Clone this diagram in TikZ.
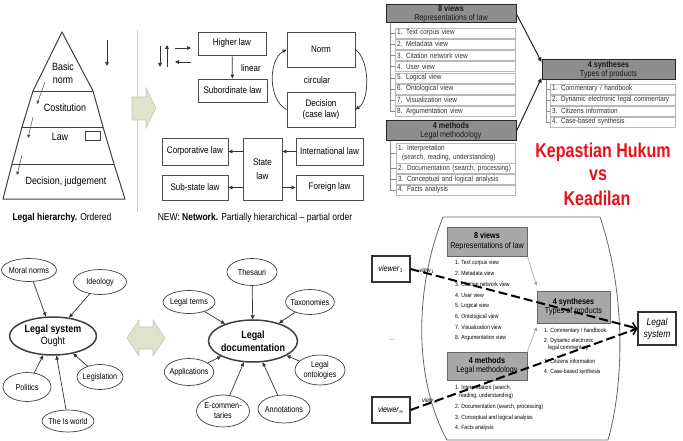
\documentclass[tikz,border=0pt]{standalone}
\usepackage{fontspec}
\setmainfont{Liberation Sans}[FakeStretch=0.85]
\newfontfamily\slidefont{Liberation Sans}[FakeStretch=0.8]
\usetikzlibrary{arrows.meta,shapes.geometric,calc}

\definecolor{paleolive}{HTML}{DFE2CC}
\definecolor{paleoliveedge}{HTML}{C6CAB0}
\definecolor{headgray}{HTML}{8E8E8E}
\definecolor{headgraylt}{HTML}{A8A8A8}
\definecolor{itemedge}{HTML}{B8B8B8}
\definecolor{slidered}{HTML}{E8101A}

\tikzset{
  arr/.style={-{Triangle[length=4pt,width=3.6pt]}, line width=0.7pt, draw=black!80},
  smallarr/.style={-{Triangle[length=3.2pt,width=3pt]}, line width=0.5pt, draw=black!70},
  lawbox/.style={draw=black!70, line width=0.9pt, fill=white, align=center, inner sep=0pt, font=\fontsize{9.5}{11}\selectfont},
  ptext/.style={align=center, inner sep=0pt, font=\fontsize{10.5}{13}\selectfont},
  capt/.style={inner sep=0pt, font=\fontsize{10}{12}\selectfont},
  oval/.style={ellipse, draw=black!75, line width=0.7pt, fill=white, inner sep=-2pt, align=center, font=\fontsize{8.5}{10}\selectfont},
  bigoval/.style={oval, line width=1.5pt, inner sep=-4pt, font=\fontsize{10.5}{12.5}\selectfont},
  headbox/.style={draw=black!85, line width=1pt, fill=headgray, align=center, inner sep=0pt, text=black!90, font=\fontsize{8.5}{9}\selectfont},
  listitem/.style={draw=itemedge, line width=0.5pt, fill=white, align=left, inner xsep=2pt, inner ysep=0pt, minimum height=10pt, text=black!80, font=\fontsize{7.5}{8.5}\selectfont},
  treeline/.style={draw=black!45, line width=0.5pt},
  linkarr/.style={-{Triangle[length=4.5pt,width=4pt]}, line width=1pt, draw=black!85},
  lightbox/.style={draw=black!60, line width=0.8pt, fill=headgraylt, align=center, inner sep=0pt, font=\fontsize{8.5}{9.5}\selectfont},
  plainitem/.style={align=left, inner sep=0pt, anchor=west, font=\fontsize{6}{7.5}\selectfont},
  viewerbox/.style={draw=black!80, line width=1.1pt, fill=white, align=center, inner sep=0pt, font=\itshape\fontsize{8.5}{10}\selectfont},
  dasharr/.style={line width=2pt, dash pattern=on 9pt off 4pt, -{Straight Barb[length=5pt,width=9pt,line width=1.6pt]}},
  blockarrow/.style={fill=paleolive, draw=paleoliveedge, line width=0.6pt},
  redtext/.style={text=slidered, inner sep=0pt, font=\slidefont\bfseries\fontsize{20}{23}\selectfont},
}

\begin{document}
\begin{tikzpicture}[x=1pt,y=-1pt]
\useasboundingbox (0,0) rectangle (683,441);
\fill[white] (0,0) rectangle (683,441);

% ===== Legal hierarchy (pyramid) =====
\draw[draw=black!75, line width=1pt, line join=round]
  (62,32) -- (93,91) -- (103,127) -- (114,164) -- (125,199) -- (3,199)
  -- (12,164) -- (22,127) -- (33,91) -- cycle;
\draw[black!75, line width=0.9pt] (33,91) -- (93,91) (22,127) -- (103,127) (12,164) -- (114,164);
\node[ptext] (basic) at (63,73.5) {Basic\\norm};
\node[ptext] (cost) at (65,108) {Costitution};
\node[ptext] (lawtext) at (60,137) {Law};
\node[draw=black!75, line width=0.8pt, minimum width=15pt, minimum height=9pt, inner sep=0pt] (lawmark) at (93,136) {};
\node[ptext] (dec) at (66,182) {Decision, judgement};
\coordinate (h1a) at (45,82);  \coordinate (h1b) at (37,104);
\coordinate (h2a) at (33,117); \coordinate (h2b) at (28,138);
\coordinate (h3a) at (22,155); \coordinate (h3b) at (17,175);
\draw[smallarr] (h1a) -- (h1b);
\draw[smallarr] (h2a) -- (h2b);
\draw[smallarr] (h3a) -- (h3b);
\coordinate (topd1) at (107,40); \coordinate (topd2) at (107,66);
\draw[arr] (topd1) -- (topd2);
\node[capt] (cap1) at (62,218) {\textbf{Legal hierarchy.} Ordered};
\draw[black!20, line width=0.6pt] (137,30) -- (137,212);
\draw[blockarrow] (132,97) -- (146,97) -- (146,88) -- (156,108) -- (146,128) -- (146,120) -- (132,120) -- cycle;

% ===== Network of laws =====
\coordinate (lg1a) at (160,46); \coordinate (lg1b) at (160,67);
\coordinate (lg2a) at (167,67); \coordinate (lg2b) at (167,45);
\coordinate (lg3a) at (175,48); \coordinate (lg3b) at (191,48);
\coordinate (lg4a) at (191,62); \coordinate (lg4b) at (175,62);
\draw[arr] (lg1a) -- (lg1b);
\draw[arr] (lg2a) -- (lg2b);
\draw[arr] (lg3a) -- (lg3b);
\draw[arr] (lg4a) -- (lg4b);

\node[lawbox, minimum width=68pt, minimum height=23pt] (higher) at (232,43.5) {Higher law};
\node[lawbox, minimum width=69pt, minimum height=23pt] (subord) at (232.5,90.5) {Subordinate law};
\draw[arr] (higher) -- (subord);
\node[capt, font=\fontsize{9.5}{11}\selectfont] (linear) at (251,68) {linear};
\node[lawbox, minimum width=68pt, minimum height=35pt] (norm) at (321,49.5) {Norm};
\node[lawbox, minimum width=68pt, minimum height=35pt] (decis) at (321,109.5) {Decision\\(case law)};
\node[capt, font=\fontsize{9.5}{11}\selectfont] (circ) at (317,80) {circular};
\draw[arr] (decis.west) .. controls (268,100) and (268,60) .. (norm.west);
\draw[arr] (norm.east) .. controls (370,60) and (370,100) .. (decis.east);

\node[lawbox, minimum width=66pt, minimum height=27pt] (corp) at (195,151.5) {Corporative law};
\node[lawbox, minimum width=66pt, minimum height=25pt] (subst) at (195,187.5) {Sub-state law};
\node[lawbox, minimum width=39pt, minimum height=62pt] (state) at (262.5,169) {State\\[3pt]law};
\node[lawbox, minimum width=67pt, minimum height=27pt] (intl) at (329.5,151.5) {International law};
\node[lawbox, minimum width=67pt, minimum height=25pt] (foreign) at (329.5,187.5) {Foreign law};
\draw[arr] (state.west |- corp.east) -- (corp.east);
\draw[arr] (state.west |- subst.east) -- (subst.east);
\draw[arr] (intl.west) -- (state.east |- intl.west);
\draw[arr] (state.east |- foreign.west) -- (foreign.west);
\node[capt] (cap2) at (255,218) {NEW: \textbf{Network.} Partially hierarchical -- partial order};

% ===== Views, methods, syntheses =====
\node[headbox, minimum width=130pt, minimum height=18pt] (views) at (451,14) {\textbf{8 views}\\Representations of law};
\foreach \txt [count=\i] in {{1. Text corpus view}, {2. Metadata view}, {3. Citation network view}, {4. User view}, {5. Logical view}, {6. Ontological view}, {7. Visualization view}, {8. Argumentation view}}
  \node[listitem, text width=116pt] (v\i) at (455,{33+11.2*(\i-1)}) {\txt};
\coordinate (vtree) at (390,23);
\foreach \i in {1,...,8} \draw[treeline] (vtree) |- (v\i.west);

\node[headbox, minimum width=130pt, minimum height=20pt] (methods) at (451,131) {\textbf{4 methods}\\Legal methodology};
\node[listitem, text width=115pt, minimum height=20pt] (m1) at (455.5,153) {1. Interpretation\\\hspace*{4pt}(search, reading, understanding)};
\node[listitem, text width=115pt] (m2) at (455.5,168.5) {2. Documentation (search, processing)};
\node[listitem, text width=115pt] (m3) at (455.5,179.5) {3. Conceptual and logical analysis};
\node[listitem, text width=115pt] (m4) at (455.5,190) {4. Facts analysis};
\coordinate (mtree) at (390,141);
\foreach \i in {1,...,4} \draw[treeline] (mtree) |- (m\i.west);

\node[headbox, minimum width=133pt, minimum height=20pt] (synth) at (608.5,70) {\textbf{4 syntheses}\\Types of products};
\foreach \txt [count=\i] in {{1. Commentary / handbook}, {2. Dynamic electronic legal commentary}, {3. Citizens information}, {4. Case-based synthesis}}
  \node[listitem, text width=121pt] (s\i) at (612.5,{89+11*(\i-1)}) {\txt};
\coordinate (stree) at (546,80);
\foreach \i in {1,...,4} \draw[treeline] (stree) |- (s\i.west);
\draw[linkarr] (views.east) -- ($(synth.west)+(0,-8)$);
\draw[linkarr] (methods.east) -- ($(synth.west)+(0,8)$);

\node[redtext] (kh) at (603,152) {Kepastian Hukum};
\node[redtext] (vs) at (598,175) {vs};
\node[redtext] (kd) at (597,198) {Keadilan};

% ===== Legal system (ought) =====
\node[bigoval, minimum width=87pt, minimum height=38pt] (lsys) at (53,336) {\textbf{Legal system}\\Ought};
\node[oval, minimum width=55pt, minimum height=23pt] (moral) at (29,270) {Moral norms};
\node[oval, minimum width=53pt, minimum height=25pt] (ideol) at (100,282) {Ideology};
\node[oval, minimum width=48pt, minimum height=29pt] (polit) at (27,387) {Politics};
\node[oval, minimum width=52pt, minimum height=22pt] (isworld) at (68,421) {The Is world};
\node[oval, minimum width=46pt, minimum height=25pt] (legis) at (100,377) {Legislation};
\foreach \n in {moral,ideol,polit,isworld,legis} \draw[arr] (\n) -- (lsys);

\draw[blockarrow] (127,338) -- (139,320) -- (139,327) -- (153,327) -- (153,320) -- (165,338)
  -- (153,356) -- (153,349) -- (139,349) -- (139,356) -- cycle;

% ===== Legal documentation =====
\node[bigoval, minimum width=89pt, minimum height=42pt] (ldoc) at (253,341) {\textbf{Legal}\\\textbf{documentation}};
\node[oval, minimum width=50pt, minimum height=27pt] (thes) at (252,272) {Thesauri};
\node[oval, minimum width=52pt, minimum height=23pt] (lterms) at (189,302) {Legal terms};
\node[oval, minimum width=46pt, minimum height=25pt] (taxo) at (310,302) {Taxonomies};
\node[oval, minimum width=48pt, minimum height=27pt] (appl) at (189,372) {Applications};
\node[oval, minimum width=50pt, minimum height=30pt] (onto) at (320,370) {Legal\\ontologies};
\node[oval, minimum width=53pt, minimum height=32pt] (ecomm) at (223,411) {E-commen-\\taries};
\node[oval, minimum width=52pt, minimum height=28pt] (annot) at (284,409) {Annotations};
\foreach \n in {thes,lterms,taxo,appl,onto,ecomm,annot} \draw[arr] (\n) -- (ldoc);

% ===== Viewers and the legal system =====
\draw[black!60, line width=0.8pt, line join=round]
  (443,217) -- (600,217) .. controls (625,290) and (625,380) .. (608,440)
  -- (447,440) .. controls (414,380) and (414,290) .. (443,217) -- cycle;
\node[lightbox, minimum width=80pt, minimum height=29pt] (views2) at (487,241.5) {\textbf{8 views}\\Representations of law};
\foreach \txt [count=\i] in {{1. Text corpus view}, {2. Metadata view}, {3. Citation network view}, {4. User view}, {5. Logical view}, {6. Ontological view}, {7. Visualization view}, {8. Argumentation view}}
  \node[plainitem] (w\i) at (455,{263+10.75*(\i-1)}) {\txt};
\node[lightbox, minimum width=80pt, minimum height=28pt] (methods2) at (487,366) {\textbf{4 methods}\\Legal methodology};
\node[plainitem] (n1) at (455,392) {1. Interpretation (search,\\\hspace*{4pt}reading, understanding)};
\node[plainitem] (n2) at (455,407) {2. Documentation (search, processing)};
\node[plainitem] (n3) at (455,417.5) {3. Conceptual and logical analysis};
\node[plainitem] (n4) at (455,428) {4. Facts analysis};
\node[lightbox, minimum width=73pt, minimum height=32pt] (synth2) at (573.5,307) {\textbf{4 syntheses}\\Types of products};
\node[plainitem] (t1) at (544,331) {1. Commentary / handbook};
\node[plainitem] (t2) at (544,344.5) {2. Dynamic electronic\\\hspace*{4pt}legal commentary};
\node[plainitem] (t3) at (544,361) {3. Citizens information};
\node[plainitem] (t4) at (544,372) {4. Case-based synthesis};
\draw[smallarr, draw=black!40] (views2.south east) -- ($(synth2.north west)+(0,-5)$);
\draw[smallarr, draw=black!40] (methods2.north east) -- ($(synth2.south west)+(0,4)$);

\node[viewerbox, minimum width=38pt, minimum height=26pt] (viewer1) at (391,269) {viewer$_1$};
\node[viewerbox, minimum width=38pt, minimum height=26pt] (viewern) at (391,410) {viewer$_n$};
\node[viewerbox, minimum width=38pt, minimum height=33pt, font=\itshape\fontsize{10}{12}\selectfont] (lsys2) at (657,328.5) {Legal\\system};
\node[font=\fontsize{8}{9}\selectfont, text=black!70, inner sep=0pt] (dots) at (392,340) {...};
\draw[dasharr] (viewer1.east) -- (lsys2.west);
\draw[dasharr] (viewern.east) -- (lsys2.west);
\node[font=\itshape\fontsize{6.5}{7}\selectfont, inner sep=0pt] (lab1) at (427,271) {view$_1$};
\node[font=\itshape\fontsize{6.5}{7}\selectfont, inner sep=0pt] (labn) at (430,401) {view$_n$};

\end{tikzpicture}
\end{document}
